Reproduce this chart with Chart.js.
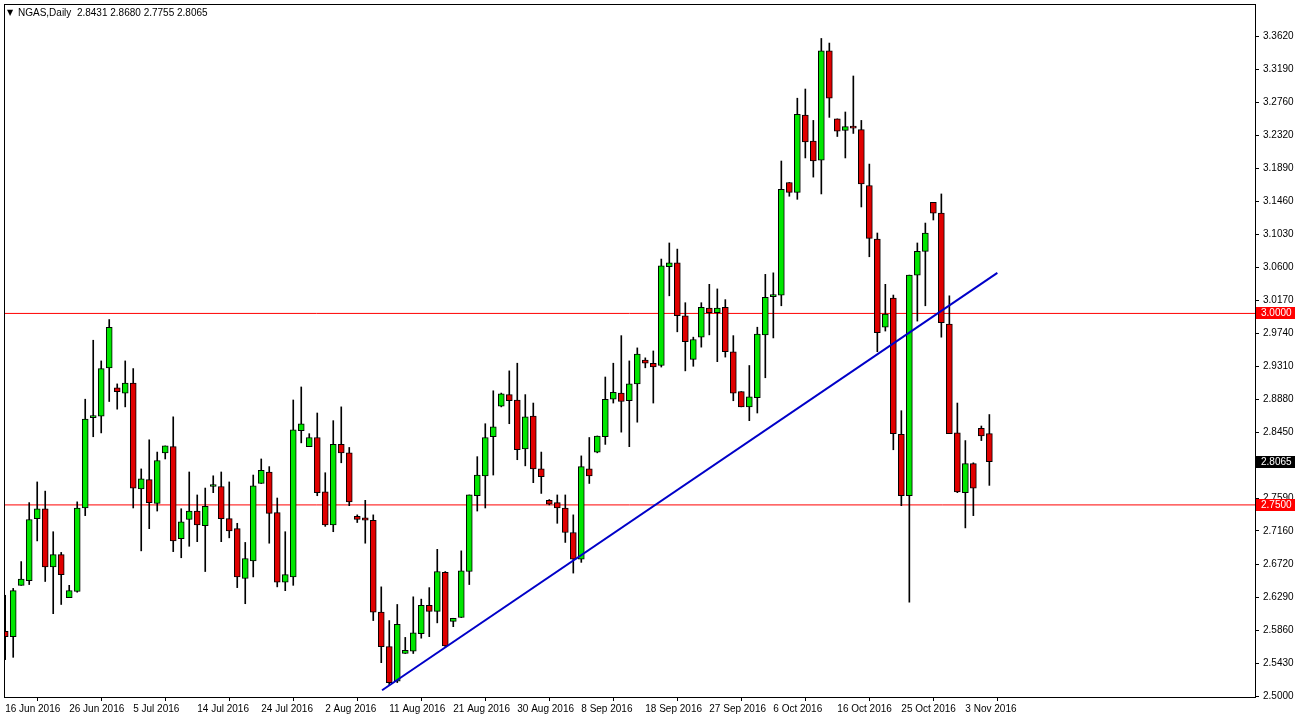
<!DOCTYPE html>
<html>
<head>
<meta charset="utf-8">
<script src="https://cdn.jsdelivr.net/npm/chart.js@4.4.1/dist/chart.umd.min.js"></script>
<style>
  html, body { margin: 0; padding: 0; background: #ffffff; overflow: hidden; }
  #wrap { width: 1299px; height: 723px; overflow: hidden; }
  #ngasChart { display: block; margin-top: -6px; }
</style>
</head>
<body>
<div id="wrap"><canvas id="ngasChart" width="1299" height="729"></canvas></div>
<script>
// NGAS daily candles, 16 Jun 2016 .. 7 Nov 2016
const OPEN = [2.585,2.578,2.645,2.651,2.732,2.745,2.669,2.685,2.629,2.637,2.746,2.864,2.866,2.929,2.903,2.896,2.909,2.771,2.783,2.752,
  2.818,2.826,2.706,2.731,2.742,2.723,2.774,2.774,2.732,2.719,2.654,2.677,2.778,2.793,2.740,2.649,2.656,2.847,2.826,2.838,
  2.767,2.724,2.829,2.818,2.735,2.733,2.730,2.610,2.565,2.520,2.556,2.559,2.582,2.619,2.611,2.662,2.598,2.603,2.663,2.762,
  2.788,2.839,2.879,2.894,2.887,2.823,2.866,2.797,2.756,2.753,2.746,2.714,2.679,2.797,2.819,2.839,2.888,2.896,2.886,2.908,
  2.939,2.935,2.932,3.061,3.066,2.997,2.940,2.969,3.007,3.001,3.008,2.950,2.898,2.878,2.890,2.972,3.022,3.024,3.171,3.158,
  3.259,3.225,3.200,3.343,3.254,3.239,3.244,3.240,3.167,3.097,2.982,3.020,2.842,2.762,3.050,3.081,3.145,3.131,2.986,2.844,
  2.766,2.804,2.850,2.8431];
const HIGH = [2.632,2.641,2.676,2.753,2.780,2.768,2.715,2.688,2.645,2.754,2.888,2.965,2.938,2.992,2.908,2.938,2.928,2.797,2.835,2.819,
  2.827,2.865,2.745,2.793,2.763,2.772,2.788,2.793,2.780,2.726,2.701,2.789,2.810,2.800,2.759,2.715,2.887,2.904,2.843,2.870,
  2.792,2.860,2.878,2.825,2.737,2.756,2.737,2.643,2.599,2.620,2.577,2.630,2.627,2.642,2.692,2.663,2.602,2.690,2.763,2.813,
  2.856,2.899,2.896,2.925,2.935,2.894,2.883,2.819,2.757,2.763,2.763,2.737,2.814,2.838,2.840,2.917,2.935,2.971,2.938,2.955,
  2.942,2.951,3.071,3.092,3.084,3.014,2.969,3.014,3.038,3.032,3.018,2.971,2.898,2.932,2.982,3.051,3.053,3.199,3.171,3.281,
  3.293,3.252,3.359,3.353,3.254,3.263,3.310,3.252,3.195,3.105,3.038,3.024,2.873,3.050,3.092,3.118,3.145,3.156,3.023,2.883,
  2.834,2.805,2.853,2.8680];
const LOW = [2.548,2.551,2.645,2.646,2.703,2.650,2.608,2.620,2.629,2.636,2.736,2.839,2.844,2.885,2.875,2.878,2.746,2.690,2.719,2.742,
  2.810,2.689,2.681,2.696,2.702,2.663,2.766,2.702,2.707,2.642,2.621,2.656,2.778,2.700,2.643,2.638,2.645,2.831,2.826,2.762,
  2.722,2.715,2.805,2.749,2.727,2.700,2.599,2.544,2.515,2.518,2.556,2.556,2.576,2.578,2.596,2.565,2.591,2.603,2.646,2.742,
  2.746,2.789,2.878,2.856,2.809,2.801,2.779,2.765,2.750,2.726,2.701,2.661,2.675,2.778,2.818,2.829,2.883,2.845,2.826,2.858,
  2.929,2.883,2.930,3.023,2.976,2.925,2.931,2.956,2.972,2.937,2.943,2.886,2.878,2.860,2.870,2.916,2.968,3.010,3.153,3.149,
  3.203,3.178,3.156,3.256,3.231,3.203,3.235,3.139,3.074,2.950,2.977,2.822,2.749,2.623,2.990,3.010,3.122,2.969,2.843,2.766,
  2.720,2.736,2.834,2.7755];
const CLOSE = [2.578,2.638,2.653,2.731,2.745,2.669,2.685,2.659,2.638,2.746,2.862,2.866,2.928,2.982,2.898,2.909,2.772,2.784,2.753,2.808,
  2.827,2.703,2.728,2.742,2.724,2.748,2.774,2.732,2.716,2.656,2.680,2.775,2.795,2.739,2.649,2.659,2.848,2.856,2.838,2.766,
  2.724,2.829,2.818,2.754,2.731,2.730,2.610,2.565,2.518,2.594,2.560,2.583,2.619,2.611,2.663,2.566,2.602,2.664,2.763,2.789,
  2.838,2.852,2.895,2.886,2.822,2.865,2.797,2.787,2.751,2.746,2.714,2.679,2.800,2.788,2.840,2.888,2.897,2.885,2.908,2.947,
  2.935,2.930,3.062,3.066,2.997,2.963,2.966,3.008,3.001,3.007,2.950,2.896,2.878,2.891,2.973,3.021,3.023,3.162,3.158,3.260,
  3.224,3.199,3.343,3.281,3.238,3.244,3.242,3.169,3.098,2.975,2.999,2.843,2.762,3.050,3.081,3.105,3.131,2.988,2.843,2.767,
  2.804,2.772,2.840,2.8065];

// date labels, one every 8 bars
const DATE_LABELS = ['16 Jun 2016','26 Jun 2016','5 Jul 2016','14 Jul 2016','24 Jul 2016','2 Aug 2016','11 Aug 2016','21 Aug 2016',
  '30 Aug 2016','8 Sep 2016','18 Sep 2016','27 Sep 2016','6 Oct 2016','16 Oct 2016','25 Oct 2016','3 Nov 2016'];
const PRICE_TICKS = [3.3620,3.3190,3.2760,3.2320,3.1890,3.1460,3.1030,3.0600,3.0170,2.9740,2.9310,2.8880,2.8450,2.8020,
  2.7590,2.7160,2.6720,2.6290,2.5860,2.5430,2.5000];
const LEVELS = [3.0000, 2.7500];
const TREND_X = [47.1, 124];
const TREND_Y = [2.508, 3.053];
const LAST_PRICE = 2.8065;

const X_MIN = -0.15, X_MAX = 156.2;
const FONT = 'Liberation Sans';
const SHIFT = 6; // canvas is pulled up by this much so the plot frame starts near the top

const bodies = OPEN.map((o, i) => ({ x: i, y: [o, CLOSE[i]] }));
const wicks = OPEN.map((o, i) => ({ x: i, y: [LOW[i], HIGH[i]] }));
const bodyColors = OPEN.map((o, i) => CLOSE[i] >= o ? '#00e600' : '#e00000');

const boxPlugin = {
  id: 'mt4boxes',
  afterDraw(chart) {
    const { ctx, chartArea, scales } = chart;
    ctx.save();
    ctx.strokeStyle = '#000';
    ctx.lineWidth = 1;
    ctx.strokeRect(chartArea.left + 0.5, chartArea.top + 0.5, chartArea.right - chartArea.left, chartArea.bottom - chartArea.top);
    ctx.font = '10px "' + FONT + '", sans-serif';
    ctx.textBaseline = 'middle';
    const tag = (v, bg) => {
      const y = Math.round(scales.y.getPixelForValue(v));
      ctx.fillStyle = bg;
      ctx.fillRect(chartArea.right + 1, y - 6, 39, 12);
      ctx.fillStyle = '#fff';
      ctx.textAlign = 'left';
      ctx.fillText(v.toFixed(4), chartArea.right + 6, y);
    };
    LEVELS.forEach(v => tag(v, '#ff0000'));
    tag(LAST_PRICE, '#000000');
    // title
    ctx.fillStyle = '#000';
    ctx.font = '8px "DejaVu Sans", sans-serif';
    ctx.fillText('\u25BC', 7, 13 + SHIFT);
    ctx.font = '10px "' + FONT + '", sans-serif';
    ctx.fillText('NGAS,Daily  ' + OPEN[OPEN.length - 1].toFixed(4) + ' ' + HIGH[HIGH.length - 1].toFixed(4) + ' ' +
      LOW[LOW.length - 1].toFixed(4) + ' ' + CLOSE[CLOSE.length - 1].toFixed(4), 18, 13 + SHIFT);
    ctx.restore();
  }
};

const ctx = document.getElementById('ngasChart').getContext('2d');
new Chart(ctx, {
  type: 'bar',
  data: {
    datasets: [
      {
        type: 'line', order: 0,
        data: [{ x: TREND_X[0], y: TREND_Y[0] }, { x: TREND_X[1], y: TREND_Y[1] }],
        borderColor: '#0000c8', borderWidth: 2, pointRadius: 0
      },
      {
        type: 'line', order: 3,
        data: [{ x: X_MIN, y: LEVELS[0] }, { x: X_MAX, y: LEVELS[0] }],
        borderColor: '#ff0000', borderWidth: 1, pointRadius: 0
      },
      {
        type: 'line', order: 3,
        data: [{ x: X_MIN, y: LEVELS[1] }, { x: X_MAX, y: LEVELS[1] }],
        borderColor: '#ff0000', borderWidth: 1, pointRadius: 0
      },
      {
        order: 2, data: wicks, grouped: false,
        backgroundColor: '#000', barThickness: 1, borderWidth: 0
      },
      {
        order: 1, data: bodies, grouped: false,
        backgroundColor: bodyColors, borderColor: '#000', borderWidth: 1,
        borderSkipped: false, barThickness: 6, minBarLength: 2
      }
    ]
  },
  options: {
    responsive: false,
    devicePixelRatio: 1,
    animation: false,
    layout: { padding: { left: 4, top: 0, right: 0, bottom: 0 } },
    plugins: { legend: { display: false }, tooltip: { enabled: false } },
    scales: {
      x: {
        type: 'linear', min: X_MIN, max: X_MAX, offset: false,
        afterBuildTicks: s => { s.ticks = DATE_LABELS.map((d, k) => ({ value: k * 8 })); },
        afterFit: s => { s.height = 26; },
        ticks: {
          align: 'start', maxRotation: 0, autoSkip: false, padding: 2,
          color: '#000', font: { family: FONT, size: 10 },
          callback: (v) => DATE_LABELS[Math.round(v / 8)] || ''
        },
        grid: { drawOnChartArea: false, tickLength: 4, color: '#000' },
        border: { color: '#000' }
      },
      y: {
        position: 'right', min: 2.4992, max: 3.404,
        afterBuildTicks: s => { s.ticks = PRICE_TICKS.map(v => ({ value: v })); },
        afterFit: s => { s.width = 44; },
        ticks: {
          padding: 4, color: '#000', font: { family: FONT, size: 10 },
          callback: v => v.toFixed(4)
        },
        grid: { drawOnChartArea: false, tickLength: 4, color: '#000' },
        border: { color: '#000' }
      }
    }
  },
  plugins: [boxPlugin]
});
</script>
</body>
</html>
